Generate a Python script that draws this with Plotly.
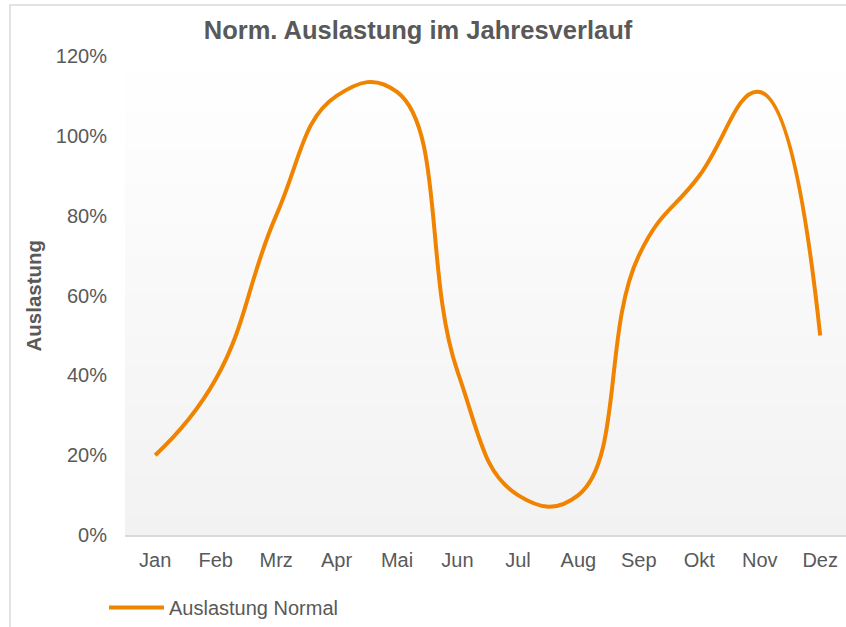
import plotly.graph_objects as go

# ---- data ----
months = ["Jan", "Feb", "Mrz", "Apr", "Mai", "Jun", "Jul", "Aug", "Sep", "Okt", "Nov", "Dez"]
auslastung_normal = [0.20, 0.39, 0.80, 1.10, 1.11, 0.41, 0.10, 0.10, 0.70, 0.90, 1.11, 0.50]
series_name = "Auslastung Normal"
chart_title = "Norm. Auslastung im Jahresverlauf"
y_title = "Auslastung"
y_ticks = [0, 0.2, 0.4, 0.6, 0.8, 1.0, 1.2]

FONT = "Liberation Sans, Arial, sans-serif"
TXT = "#595959"
W, H = 846, 627
ML, MR, MT, MB = 125, 0, 56, 92
PW = W - ML - MR
PH = H - MT - MB
CAT_STEP = 60.45  # pixel spacing of categories

fig = go.Figure()
fig.add_trace(go.Scatter(
    x=months, y=auslastung_normal, mode="lines", name=series_name,
    line=dict(color="#F08300", width=4, shape="spline", smoothing=1.3),
    showlegend=True,
))

# gradient plot background (white -> light gray)
shapes = []
N = 60
for i in range(N):
    t = (i + 0.5) / N  # 0 top -> 1 bottom
    c = round(255 - 13 * t)
    shapes.append(dict(
        type="rect", xref="x domain", yref="y domain",
        x0=0, x1=1, y0=1 - (i + 1) / N, y1=1 - i / N + 0.002,
        fillcolor=f"rgb({c},{c},{c})", line=dict(width=0), layer="below",
    ))

def px_x(px):
    return (px - ML) / PW

def px_y(py):
    return (H - MB - py) / PH

# outer chart border
shapes.append(dict(
    type="rect", xref="paper", yref="paper",
    x0=px_x(10), x1=px_x(1000), y0=px_y(900), y1=px_y(5),
    line=dict(color="#d9d9d9", width=1.5), fillcolor="rgba(0,0,0,0)", layer="below",
))

fig.update_layout(
    width=W, height=H, autosize=False,
    margin=dict(l=ML, r=MR, t=MT, b=MB),
    paper_bgcolor="white", plot_bgcolor="white",
    font=dict(family=FONT, color=TXT, size=20),
    title=dict(text=f"<b>{chart_title}</b>", font=dict(size=25.5, color=TXT, family=FONT),
               x=px_x(418), xref="paper", xanchor="center",
               y=1 - 30 / H, yref="container", yanchor="middle"),
    shapes=shapes,
    xaxis=dict(type="category", range=[-0.5, PW / CAT_STEP - 0.5],
               showgrid=False, zeroline=False, showline=True,
               linecolor="#d9d9d9", linewidth=2, ticks="",
               tickfont=dict(size=20, color=TXT), ticklabelstandoff=6),
    yaxis=dict(range=[0, 1.2], tickvals=y_ticks, tickformat=".0%",
               showgrid=False, zeroline=False, showline=False, ticks="",
               tickfont=dict(size=20, color=TXT), ticklabelstandoff=17),
    legend=dict(orientation="h", x=px_x(104), xanchor="left",
                y=px_y(608), yanchor="middle", itemwidth=55,
                font=dict(size=20, color=TXT), bgcolor="rgba(0,0,0,0)"),
    annotations=[dict(text=f"<b>{y_title}</b>", xref="paper", yref="paper",
                      x=px_x(33), y=0.5, textangle=-90, showarrow=False,
                      font=dict(size=20.5, color=TXT, family=FONT),
                      xanchor="center", yanchor="middle")],
)

fig.write_html("out.html", config={"displayModeBar": False},
               post_script="document.body.style.margin='0px';")
